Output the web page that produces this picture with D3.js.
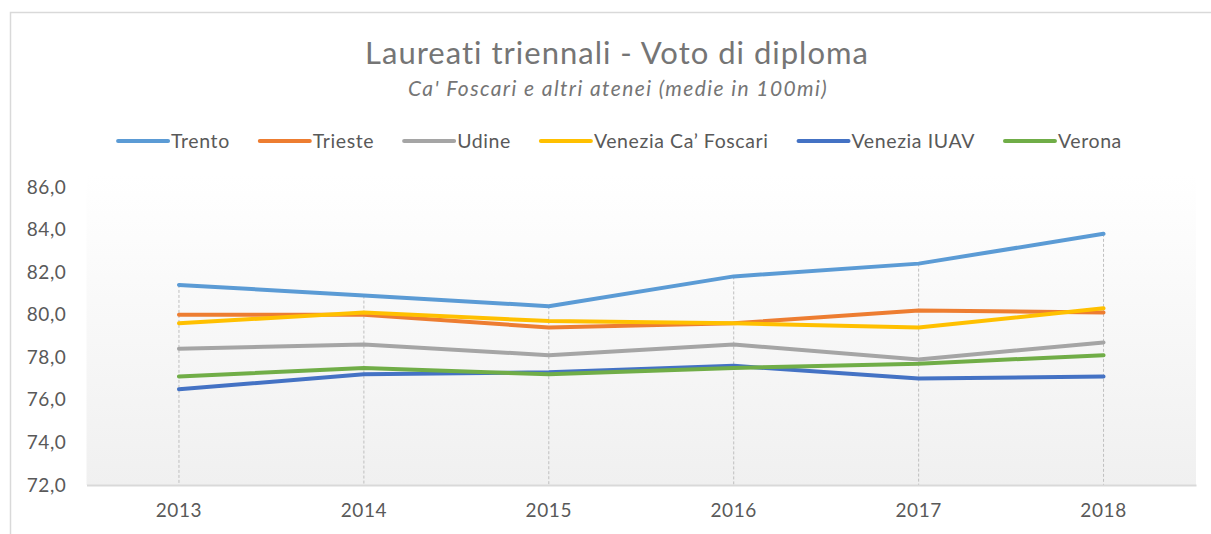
<!DOCTYPE html>
<html>
<head>
<meta charset="utf-8">
<script src="https://cdn.jsdelivr.net/npm/d3@7"></script>
<style>
  body { margin: 0; background: #fff; }
  svg { display: block; font-family: Lato, "Open Sans", sans-serif; }
</style>
</head>
<body>
<div id="chart"></div>
<script>
const years = ["2013", "2014", "2015", "2016", "2017", "2018"];
const seriesNames = ["Trento", "Trieste", "Udine", "Venezia Ca\u2019 Foscari", "Venezia IUAV", "Verona"];
const trento = [81.4, 80.9, 80.4, 81.8, 82.4, 83.8];
const trieste = [80.0, 80.0, 79.4, 79.6, 80.2, 80.1];
const udine = [78.4, 78.6, 78.1, 78.6, 77.9, 78.7];
const caFoscari = [79.6, 80.1, 79.7, 79.6, 79.4, 80.3];
const iuav = [76.5, 77.2, 77.3, 77.6, 77.0, 77.1];
const verona = [77.1, 77.5, 77.2, 77.5, 77.7, 78.1];
const yTicks = [72, 74, 76, 78, 80, 82, 84, 86];
const colors = ["#5B9BD5", "#ED7D31", "#A5A5A5", "#FFC000", "#4472C4", "#70AD47"];

const allValues = [trento, trieste, udine, caFoscari, iuav, verona];
const series = seriesNames.map((name, i) => ({name, color: colors[i], values: allValues[i]}));

const width = 1211, height = 534;
const margin = {top: 187, right: 15, bottom: 49, left: 86.5};

const svg = d3.select("#chart").append("svg")
    .attr("width", width)
    .attr("height", height);

// chart border
svg.append("path")
    .attr("d", "M10.5," + height + " V12.5 H" + width)
    .attr("fill", "none")
    .attr("stroke", "#d9d9d9")
    .attr("stroke-width", 1.5);

const x = d3.scaleBand().domain(years).range([margin.left, width - margin.right]);
const y = d3.scaleLinear().domain([72, 86]).range([height - margin.bottom, margin.top]);

// plot area gradient
const defs = svg.append("defs");
const grad = defs.append("linearGradient").attr("id", "bg").attr("x1", 0).attr("y1", 0).attr("x2", 0).attr("y2", 1);
grad.append("stop").attr("offset", "0%").attr("stop-color", "#ffffff");
grad.append("stop").attr("offset", "100%").attr("stop-color", "#f0f0f0");

svg.append("rect")
    .attr("x", margin.left)
    .attr("y", margin.top - 12)
    .attr("width", width - margin.right - margin.left)
    .attr("height", y(72) - margin.top + 12)
    .attr("fill", "url(#bg)");

// titles
svg.append("text")
    .attr("x", 617).attr("y", 64)
    .attr("text-anchor", "middle")
    .attr("font-size", 31)
    .attr("letter-spacing", 1)
    .attr("fill", "#757575")
    .text("Laureati triennali - Voto di diploma");
svg.append("text")
    .attr("x", 618).attr("y", 96)
    .attr("text-anchor", "middle")
    .attr("font-size", 21)
    .attr("letter-spacing", 1.4)
    .attr("font-style", "italic")
    .attr("fill", "#757575")
    .text("Ca' Foscari e altri atenei (medie in 100mi)");

// drop lines
const cx = d => x(d) + x.bandwidth() / 2;
svg.append("g")
    .selectAll("line")
    .data(years)
    .join("line")
    .attr("x1", cx).attr("x2", cx)
    .attr("y1", (d, i) => y(d3.max(series, s => s.values[i])))
    .attr("y2", y(72))
    .attr("stroke", "#bfbfbf")
    .attr("stroke-width", 1)
    .attr("stroke-dasharray", "3,2");

// x axis
const xAxis = svg.append("g")
    .attr("transform", "translate(0," + y(72) + ")")
    .call(d3.axisBottom(x).tickSize(0).tickPadding(19));
xAxis.select(".domain").attr("stroke", "#d9d9d9").attr("stroke-width", 2);
xAxis.selectAll("text").attr("font-size", 19).attr("letter-spacing", 0.6).attr("fill", "#595959").attr("font-family", "Lato, 'Open Sans', sans-serif");

// y axis
const yAxis = svg.append("g")
    .attr("transform", "translate(" + (margin.left - 20) + ",0)")
    .call(d3.axisLeft(y).tickValues(yTicks).tickSize(0).tickPadding(0)
        .tickFormat(d => d3.format(".1f")(d).replace(".", ",")));
yAxis.select(".domain").remove();
yAxis.selectAll("text").attr("font-size", 19).attr("letter-spacing", 0.6).attr("fill", "#595959").attr("font-family", "Lato, 'Open Sans', sans-serif");

// lines
const line = d3.line()
    .x((d, i) => cx(years[i]))
    .y(d => y(d));
svg.append("g")
    .selectAll("path")
    .data(series)
    .join("path")
    .attr("d", s => line(s.values))
    .attr("fill", "none")
    .attr("stroke", s => s.color)
    .attr("stroke-width", 4)
    .attr("stroke-linecap", "round")
    .attr("stroke-linejoin", "round");

// legend
const legend = svg.append("g").attr("transform", "translate(0,141)");
const items = legend.selectAll("g").data(series).join("g");
items.append("line")
    .attr("x1", 0).attr("x2", 50)
    .attr("stroke", s => s.color)
    .attr("stroke-width", 4)
    .attr("stroke-linecap", "round");
items.append("text")
    .attr("x", 53).attr("dy", "0.35em")
    .attr("font-size", 19.5)
    .attr("letter-spacing", 0.6)
    .attr("fill", "#595959")
    .text(s => s.name);
let pos = 0;
const offsets = [];
items.each(function() {
    offsets.push(pos);
    pos += 53 + this.querySelector("text").getComputedTextLength() + 30;
});
const total = pos - 30;
const start = 620 - total / 2;
items.attr("transform", (s, i) => "translate(" + (start + offsets[i]) + ",0)");
</script>
</body>
</html>
